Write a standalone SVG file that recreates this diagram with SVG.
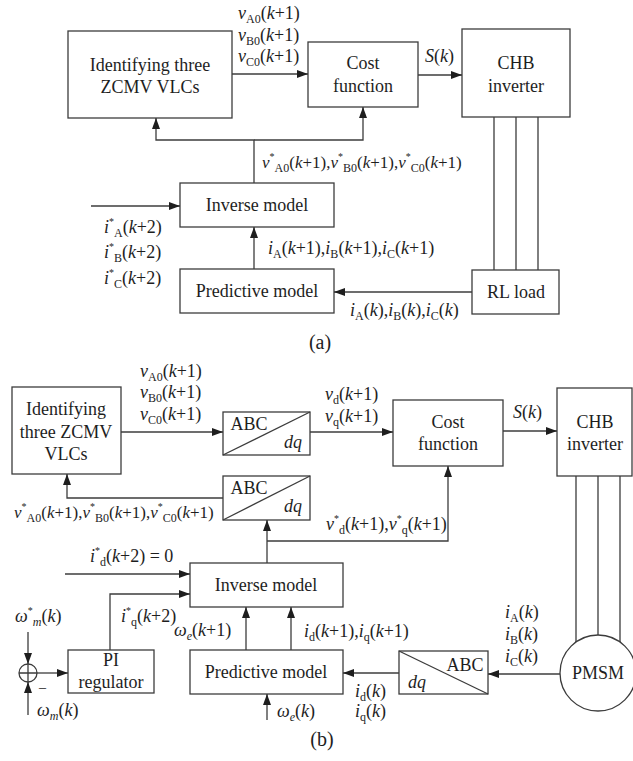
<svg xmlns="http://www.w3.org/2000/svg" width="633" height="761" viewBox="0 0 633 761">
<style>
.bx{fill:#fff;stroke:#3c3c3c;stroke-width:1.3}
.ln{fill:none;stroke:#3c3c3c;stroke-width:1.3}
.ar{fill:none;stroke:#3c3c3c;stroke-width:1.3;marker-end:url(#ah)}
text{font-family:"Liberation Serif","Times New Roman",serif;fill:#1e1e1e}
.t{font-size:18px;text-anchor:middle}
.l{font-size:18px}
.l2{font-size:17px}
.i{font-style:italic}
.s{font-size:12px}
.st{font-size:10px}
.cap{font-size:20px;text-anchor:middle}
</style>
<defs>
<marker id="ah" markerUnits="userSpaceOnUse" markerWidth="12" markerHeight="10" refX="11" refY="4" orient="auto">
<path d="M0,0 L11,4 L0,8 Z" fill="#1e1e1e"/>
</marker>
</defs>
<rect width="633" height="761" fill="#fff"/>

<!-- ========== (a) ========== -->
<g id="a-identify"><rect class="bx" x="68" y="31" width="164" height="87"/><text class="t" x="150" y="71">Identifying three</text><text class="t" x="150" y="93">ZCMV VLCs</text></g>
<g id="a-cost"><rect class="bx" x="308" y="42" width="110" height="65"/><text class="t" x="363" y="69">Cost</text><text class="t" x="363" y="92">function</text></g>
<g id="a-chb"><rect class="bx" x="462" y="29" width="108" height="88"/><text class="t" x="516" y="69">CHB</text><text class="t" x="516" y="92">inverter</text></g>
<g id="a-rl"><rect class="bx" x="472" y="270" width="87" height="44"/><text class="t" x="516" y="298">RL load</text></g>
<g id="a-pred"><rect class="bx" x="180" y="269" width="154" height="44"/><text class="t" x="257" y="297">Predictive model</text></g>
<g id="a-inv"><rect class="bx" x="180" y="183" width="154" height="44"/><text class="t" x="257" y="211">Inverse model</text></g>

<g id="a-connectors">
<path class="ar" d="M232,74 H308"/>
<path class="ar" d="M418,75 H462"/>
<path class="ln" d="M494,117 V270 M516,117 V270 M538,117 V270"/>
<path class="ar" d="M472,292 H334"/>
<path class="ar" d="M254,269 V227"/>
<path class="ar" d="M91,206 H180"/>
<path class="ar" d="M254,183 V140 H156 V118"/>
<path class="ar" d="M254,140 H363 V107"/>
</g>

<g id="a-labels">
<text class="l" x="238" y="19"><tspan class="i">v</tspan><tspan class="s" dy="4">A0</tspan><tspan dy="-4">(</tspan><tspan class="i">k</tspan>+1)</text>
<text class="l" x="238" y="41"><tspan class="i">v</tspan><tspan class="s" dy="4">B0</tspan><tspan dy="-4">(</tspan><tspan class="i">k</tspan>+1)</text>
<text class="l" x="238" y="62"><tspan class="i">v</tspan><tspan class="s" dy="4">C0</tspan><tspan dy="-4">(</tspan><tspan class="i">k</tspan>+1)</text>
<text class="l" x="425" y="62"><tspan class="i">S</tspan>(<tspan class="i">k</tspan>)</text>
<text class="l2" x="262" y="168"><tspan class="i">v</tspan><tspan class="st" dy="-8">*</tspan><tspan class="s" dy="12">A0</tspan><tspan dy="-4">(</tspan><tspan class="i">k</tspan>+1),<tspan class="i">v</tspan><tspan class="st" dy="-8">*</tspan><tspan class="s" dy="12">B0</tspan><tspan dy="-4">(</tspan><tspan class="i">k</tspan>+1),<tspan class="i">v</tspan><tspan class="st" dy="-8">*</tspan><tspan class="s" dy="12">C0</tspan><tspan dy="-4">(</tspan><tspan class="i">k</tspan>+1)</text>
<text class="l" x="268" y="254"><tspan class="i">i</tspan><tspan class="s" dy="4">A</tspan><tspan dy="-4">(</tspan><tspan class="i">k</tspan>+1),<tspan class="i">i</tspan><tspan class="s" dy="4">B</tspan><tspan dy="-4">(</tspan><tspan class="i">k</tspan>+1),<tspan class="i">i</tspan><tspan class="s" dy="4">C</tspan><tspan dy="-4">(</tspan><tspan class="i">k</tspan>+1)</text>
<text class="l" x="350" y="316"><tspan class="i">i</tspan><tspan class="s" dy="4">A</tspan><tspan dy="-4">(</tspan><tspan class="i">k</tspan>),<tspan class="i">i</tspan><tspan class="s" dy="4">B</tspan><tspan dy="-4">(</tspan><tspan class="i">k</tspan>),<tspan class="i">i</tspan><tspan class="s" dy="4">C</tspan><tspan dy="-4">(</tspan><tspan class="i">k</tspan>)</text>
<text class="l" x="104" y="233"><tspan class="i">i</tspan><tspan class="st" dy="-8">*</tspan><tspan class="s" dy="12">A</tspan><tspan dy="-4">(</tspan><tspan class="i">k</tspan>+2)</text>
<text class="l" x="104" y="258"><tspan class="i">i</tspan><tspan class="st" dy="-8">*</tspan><tspan class="s" dy="12">B</tspan><tspan dy="-4">(</tspan><tspan class="i">k</tspan>+2)</text>
<text class="l" x="104" y="284"><tspan class="i">i</tspan><tspan class="st" dy="-8">*</tspan><tspan class="s" dy="12">C</tspan><tspan dy="-4">(</tspan><tspan class="i">k</tspan>+2)</text>
<text class="cap" x="320" y="349">(a)</text>
</g>

<!-- ========== (b) ========== -->
<g id="b-identify"><rect class="bx" x="12" y="387" width="109" height="87"/><text class="t" x="66" y="415">Identifying</text><text class="t" x="66" y="438">three ZCMV</text><text class="t" x="66" y="460">VLCs</text></g>
<g id="b-abc1"><rect class="bx" x="223" y="412" width="87" height="43"/><path class="ln" d="M223,455 L310,412"/><text class="t" x="249" y="430">ABC</text><text class="t i" x="293" y="448">dq</text></g>
<g id="b-abc2"><rect class="bx" x="223" y="476" width="87" height="44"/><path class="ln" d="M223,520 L310,476"/><text class="t" x="249" y="494">ABC</text><text class="t i" x="293" y="512">dq</text></g>
<g id="b-cost"><rect class="bx" x="393" y="400" width="110" height="66"/><text class="t" x="448" y="428">Cost</text><text class="t" x="448" y="450">function</text></g>
<g id="b-chb"><rect class="bx" x="557" y="388" width="75" height="88"/><text class="t" x="595" y="428">CHB</text><text class="t" x="595" y="450">inverter</text></g>
<g id="b-pmsm"><circle class="bx" cx="598" cy="673" r="38"/><text class="t" x="598" y="679">PMSM</text></g>
<g id="b-abc3"><rect class="bx" x="399" y="651" width="89" height="43"/><path class="ln" d="M399,651 L488,694"/><text class="t" x="465" y="671">ABC</text><text class="t i" x="417" y="688">dq</text></g>
<g id="b-pred"><rect class="bx" x="190" y="650" width="153" height="44"/><text class="t" x="266" y="678">Predictive model</text></g>
<g id="b-inv"><rect class="bx" x="190" y="563" width="153" height="44"/><text class="t" x="266" y="591">Inverse model</text></g>
<g id="b-pi"><rect class="bx" x="68" y="650" width="86" height="43"/><text class="t" x="111" y="666">PI</text><text class="t" x="111" y="688">regulator</text></g>
<g id="b-sum"><circle class="bx" cx="28" cy="673" r="9"/><path class="ln" d="M19,673 H37 M28,664 V682"/></g>

<g id="b-connectors">
<path class="ar" d="M121,432 H223"/>
<path class="ar" d="M310,432 H393"/>
<path class="ar" d="M503,431 H557"/>
<path class="ln" d="M576,476 V642 M598,476 V635 M620,476 V642"/>
<path class="ar" d="M223,498 H67 V474"/>
<path class="ar" d="M267,563 V520"/>
<path class="ar" d="M267,541 H448 V466"/>
<path class="ar" d="M560,674 H488"/>
<path class="ar" d="M399,673 H343"/>
<path class="ar" d="M246,650 V607"/>
<path class="ar" d="M291,650 V607"/>
<path class="ar" d="M267,720 V694"/>
<path class="ar" d="M65,574 H190"/>
<path class="ar" d="M110,650 V594 H190"/>
<path class="ar" d="M37,673 H68"/>
<path class="ar" d="M28,632 V664"/>
<path class="ar" d="M28,715 V682"/>
</g>

<g id="b-labels">
<text class="l" x="140" y="377"><tspan class="i">v</tspan><tspan class="s" dy="4">A0</tspan><tspan dy="-4">(</tspan><tspan class="i">k</tspan>+1)</text>
<text class="l" x="140" y="398"><tspan class="i">v</tspan><tspan class="s" dy="4">B0</tspan><tspan dy="-4">(</tspan><tspan class="i">k</tspan>+1)</text>
<text class="l" x="140" y="420"><tspan class="i">v</tspan><tspan class="s" dy="4">C0</tspan><tspan dy="-4">(</tspan><tspan class="i">k</tspan>+1)</text>
<text class="l" x="325" y="400"><tspan class="i">v</tspan><tspan class="s" dy="4">d</tspan><tspan dy="-4">(</tspan><tspan class="i">k</tspan>+1)</text>
<text class="l" x="325" y="422"><tspan class="i">v</tspan><tspan class="s" dy="4">q</tspan><tspan dy="-4">(</tspan><tspan class="i">k</tspan>+1)</text>
<text class="l" x="513" y="418"><tspan class="i">S</tspan>(<tspan class="i">k</tspan>)</text>
<text class="l2" x="14" y="518"><tspan class="i">v</tspan><tspan class="st" dy="-8">*</tspan><tspan class="s" dy="12">A0</tspan><tspan dy="-4">(</tspan><tspan class="i">k</tspan>+1),<tspan class="i">v</tspan><tspan class="st" dy="-8">*</tspan><tspan class="s" dy="12">B0</tspan><tspan dy="-4">(</tspan><tspan class="i">k</tspan>+1),<tspan class="i">v</tspan><tspan class="st" dy="-8">*</tspan><tspan class="s" dy="12">C0</tspan><tspan dy="-4">(</tspan><tspan class="i">k</tspan>+1)</text>
<text class="l" x="326" y="530"><tspan class="i">v</tspan><tspan class="st" dy="-8">*</tspan><tspan class="s" dy="12">d</tspan><tspan dy="-4">(</tspan><tspan class="i">k</tspan>+1),<tspan class="i">v</tspan><tspan class="st" dy="-8">*</tspan><tspan class="s" dy="12">q</tspan><tspan dy="-4">(</tspan><tspan class="i">k</tspan>+1)</text>
<text class="l" x="90" y="562"><tspan class="i">i</tspan><tspan class="st" dy="-8">*</tspan><tspan class="s" dy="12">d</tspan><tspan dy="-4">(</tspan><tspan class="i">k</tspan>+2) = 0</text>
<text class="l" x="121" y="622"><tspan class="i">i</tspan><tspan class="st" dy="-8">*</tspan><tspan class="s" dy="12">q</tspan><tspan dy="-4">(</tspan><tspan class="i">k</tspan>+2)</text>
<text class="l" x="15" y="622"><tspan class="i">ω</tspan><tspan class="st" dy="-8">*</tspan><tspan class="s i" dy="12">m</tspan><tspan dy="-4">(</tspan><tspan class="i">k</tspan>)</text>
<text class="l" x="37" y="716"><tspan class="i">ω</tspan><tspan class="s i" dy="4">m</tspan><tspan dy="-4">(</tspan><tspan class="i">k</tspan>)</text>
<text x="39" y="692" style="font-size:14px">–</text>
<text class="l" x="174" y="636"><tspan class="i">ω</tspan><tspan class="s i" dy="4">e</tspan><tspan dy="-4">(</tspan><tspan class="i">k</tspan>+1)</text>
<text class="l" x="304" y="637"><tspan class="i">i</tspan><tspan class="s" dy="4">d</tspan><tspan dy="-4">(</tspan><tspan class="i">k</tspan>+1),<tspan class="i">i</tspan><tspan class="s" dy="4">q</tspan><tspan dy="-4">(</tspan><tspan class="i">k</tspan>+1)</text>
<text class="l" x="277" y="717"><tspan class="i">ω</tspan><tspan class="s i" dy="4">e</tspan><tspan dy="-4">(</tspan><tspan class="i">k</tspan>)</text>
<text class="l" x="355" y="697"><tspan class="i">i</tspan><tspan class="s" dy="4">d</tspan><tspan dy="-4">(</tspan><tspan class="i">k</tspan>)</text>
<text class="l" x="355" y="717"><tspan class="i">i</tspan><tspan class="s" dy="4">q</tspan><tspan dy="-4">(</tspan><tspan class="i">k</tspan>)</text>
<text class="l" x="505" y="618"><tspan class="i">i</tspan><tspan class="s" dy="4">A</tspan><tspan dy="-4">(</tspan><tspan class="i">k</tspan>)</text>
<text class="l" x="505" y="640"><tspan class="i">i</tspan><tspan class="s" dy="4">B</tspan><tspan dy="-4">(</tspan><tspan class="i">k</tspan>)</text>
<text class="l" x="505" y="662"><tspan class="i">i</tspan><tspan class="s" dy="4">C</tspan><tspan dy="-4">(</tspan><tspan class="i">k</tspan>)</text>
<text class="cap" x="322" y="746">(b)</text>
</g>
</svg>
